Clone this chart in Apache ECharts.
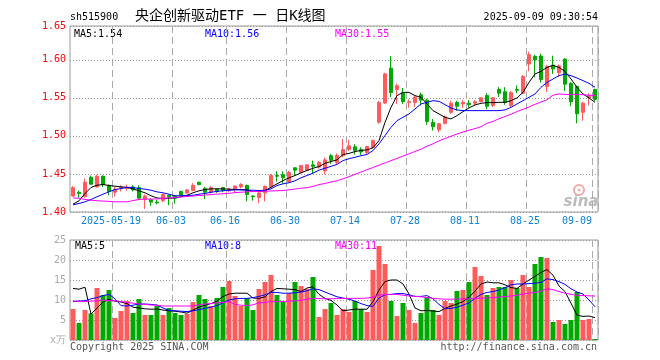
<!DOCTYPE html>
<html><head><meta charset="utf-8">
<script src="https://cdn.jsdelivr.net/npm/echarts@6/dist/echarts.min.js"></script>
<style>html,body{margin:0;padding:0;background:#fff}#c{width:660px;height:360px}</style>
</head><body><div id="c"></div>
<script>
const dates = ['2025-05-08','2025-05-09','2025-05-12','2025-05-13','2025-05-14','2025-05-15','2025-05-16','2025-05-19','2025-05-20','2025-05-21','2025-05-22','2025-05-23','2025-05-26','2025-05-27','2025-05-28','2025-05-29','2025-05-30','2025-06-03','2025-06-04','2025-06-05','2025-06-06','2025-06-09','2025-06-10','2025-06-11','2025-06-12','2025-06-13','2025-06-16','2025-06-17','2025-06-18','2025-06-19','2025-06-20','2025-06-23','2025-06-24','2025-06-25','2025-06-26','2025-06-27','2025-06-30','2025-07-01','2025-07-02','2025-07-03','2025-07-04','2025-07-07','2025-07-08','2025-07-09','2025-07-10','2025-07-11','2025-07-14','2025-07-15','2025-07-16','2025-07-17','2025-07-18','2025-07-21','2025-07-22','2025-07-23','2025-07-24','2025-07-25','2025-07-28','2025-07-29','2025-07-30','2025-07-31','2025-08-01','2025-08-04','2025-08-05','2025-08-06','2025-08-07','2025-08-08','2025-08-11','2025-08-12','2025-08-13','2025-08-14','2025-08-15','2025-08-18','2025-08-19','2025-08-20','2025-08-21','2025-08-22','2025-08-25','2025-08-26','2025-08-27','2025-08-28','2025-08-29','2025-09-01','2025-09-02','2025-09-03','2025-09-04','2025-09-05','2025-09-08','2025-09-09'];

const tickDates  = ['2025-05-19','2025-06-03','2025-06-16','2025-06-30','2025-07-14','2025-07-28','2025-08-11','2025-08-25','2025-09-09'];
const tickLabels = ['2025-05-19','06-03','06-16','06-30','07-14','07-28','08-11','08-25','09-09'];

const openP  = [1.421,1.426,1.420,1.4457,1.433,1.447,1.435,1.426,1.432,1.431,1.433,1.432,1.417,1.416,1.413,1.415,1.422,1.421,1.427,1.425,1.428,1.439,1.431,1.426,1.430,1.432,1.428,1.430,1.433,1.435,1.421,1.419,1.425,1.433,1.448,1.449,1.440,1.458,1.452,1.455,1.462,1.459,1.454,1.474,1.465,1.474,1.482,1.4856,1.482,1.478,1.485,1.518,1.5433,1.589,1.561,1.557,1.544,1.544,1.554,1.547,1.5175,1.508,1.5165,1.531,1.544,1.542,1.543,1.543,1.545,1.553,1.540,1.561,1.558,1.540,1.561,1.556,1.5945,1.6045,1.605,1.565,1.593,1.583,1.601,1.569,1.565,1.531,1.550,1.561];
const closeP = [1.432,1.424,1.439,1.4365,1.447,1.436,1.427,1.430,1.433,1.433,1.429,1.418,1.421,1.413,1.412,1.423,1.420,1.418,1.422,1.429,1.435,1.436,1.426,1.432,1.427,1.428,1.430,1.434,1.436,1.423,1.420,1.425,1.4335,1.448,1.447,1.445,1.452,1.455,1.461,1.462,1.460,1.465,1.4685,1.468,1.4745,1.482,1.487,1.481,1.479,1.486,1.494,1.544,1.5814,1.557,1.566,1.545,1.545,1.551,1.547,1.519,1.512,1.516,1.525,1.543,1.539,1.544,1.541,1.545,1.550,1.539,1.550,1.556,1.544,1.557,1.560,1.578,1.6067,1.600,1.574,1.591,1.588,1.592,1.568,1.545,1.529,1.543,1.553,1.548];
const lowP   = [1.420,1.419,1.419,1.436,1.432,1.433,1.422,1.420,1.427,1.428,1.427,1.418,1.404,1.408,1.410,1.413,1.409,1.411,1.421,1.424,1.428,1.435,1.417,1.424,1.425,1.426,1.426,1.425,1.431,1.414,1.415,1.4115,1.414,1.432,1.440,1.437,1.439,1.448,1.451,1.454,1.450,1.457,1.4496,1.463,1.463,1.472,1.480,1.4755,1.475,1.476,1.484,1.516,1.542,1.551,1.542,1.542,1.537,1.538,1.540,1.5145,1.507,1.505,1.515,1.529,1.533,1.537,1.537,1.540,1.544,1.535,1.538,1.551,1.541,1.537,1.556,1.555,1.5848,1.5769,1.570,1.558,1.5814,1.578,1.559,1.539,1.5165,1.520,1.540,1.546];
const highP  = [1.434,1.428,1.444,1.448,1.449,1.448,1.436,1.433,1.435,1.436,1.435,1.435,1.423,1.418,1.416,1.424,1.423,1.422,1.428,1.430,1.438,1.440,1.433,1.434,1.431,1.433,1.432,1.435,1.438,1.436,1.422,1.426,1.435,1.450,1.4535,1.4535,1.454,1.459,1.462,1.463,1.4676,1.467,1.4715,1.4763,1.477,1.496,1.495,1.489,1.485,1.487,1.495,1.546,1.583,1.605,1.5687,1.563,1.548,1.553,1.557,1.549,1.522,1.517,1.527,1.546,1.546,1.547,1.547,1.547,1.551,1.556,1.551,1.564,1.564,1.559,1.5663,1.580,1.6106,1.6067,1.608,1.593,1.6054,1.594,1.602,1.571,1.566,1.545,1.556,1.562];

const ma5  = [1.4102,1.4147,1.4243,1.4322,1.4352,1.4361,1.4348,1.4339,1.4331,1.4322,1.4304,1.4278,1.4252,1.4213,1.4185,1.4177,1.4181,1.4185,1.4200,1.4220,1.4252,1.4278,1.4295,1.4304,1.4304,1.4304,1.4300,1.4295,1.4295,1.4290,1.4269,1.4269,1.4280,1.4325,1.4370,1.4413,1.4449,1.4479,1.4514,1.4545,1.4575,1.4597,1.4640,1.4663,1.4685,1.4755,1.4770,1.4794,1.4810,1.4816,1.4843,1.4938,1.5178,1.5375,1.5529,1.5572,1.5572,1.5529,1.5507,1.5420,1.5332,1.5289,1.5244,1.5223,1.5266,1.5319,1.5367,1.5407,1.5428,1.5437,1.5437,1.5441,1.5441,1.5463,1.5499,1.5572,1.5703,1.5814,1.5848,1.5900,1.5927,1.5900,1.5848,1.5748,1.5638,1.5551,1.5499,1.5441];
const ma10 = [1.4094,1.4112,1.4134,1.4164,1.4200,1.4234,1.4265,1.4295,1.4308,1.4322,1.4322,1.4308,1.4300,1.4286,1.4265,1.4252,1.4234,1.4213,1.4213,1.4217,1.4220,1.4234,1.4243,1.4260,1.4270,1.4280,1.4285,1.4291,1.4290,1.4288,1.4286,1.4282,1.4285,1.4304,1.4348,1.4370,1.4385,1.4410,1.4450,1.4480,1.4510,1.4550,1.4575,1.4600,1.4625,1.4676,1.4700,1.4719,1.4740,1.4755,1.4807,1.4895,1.5004,1.5113,1.5200,1.5244,1.5289,1.5354,1.5420,1.5441,1.5463,1.5454,1.5411,1.5367,1.5341,1.5332,1.5332,1.5332,1.5332,1.5332,1.5332,1.5332,1.5341,1.5375,1.5420,1.5463,1.5507,1.5551,1.5638,1.5703,1.5748,1.5791,1.5814,1.5791,1.5761,1.5726,1.5690,1.5638];
const ma30 = [1.4186,1.4180,1.4165,1.4155,1.4148,1.4143,1.4140,1.4134,1.4134,1.4134,1.4150,1.4165,1.4168,1.4170,1.4172,1.4178,1.4185,1.4190,1.4198,1.4203,1.4210,1.4217,1.4222,1.4228,1.4235,1.4240,1.4245,1.4255,1.4260,1.4265,1.4269,1.4271,1.4273,1.4276,1.4279,1.4282,1.4292,1.4302,1.4312,1.4320,1.4335,1.4360,1.4375,1.4395,1.4410,1.4436,1.4465,1.4495,1.4525,1.4555,1.4585,1.4615,1.4645,1.4675,1.4705,1.4735,1.4765,1.4795,1.4825,1.4865,1.4895,1.4935,1.4965,1.4995,1.5025,1.5050,1.5075,1.5095,1.5120,1.5165,1.5190,1.5225,1.5255,1.5285,1.5320,1.5350,1.5380,1.5415,1.5445,1.5475,1.5535,1.5551,1.5545,1.5542,1.5542,1.5542,1.5535,1.5529];

const vol   = [7.75,4.25,7.5,6.67,13,11.25,12.5,5.5,7.25,9.75,6.75,10.25,6.25,6.25,8.5,6.25,8,6.75,6.25,6.5,9.5,11.25,10.25,8.5,10.5,13.25,14.75,11,8.5,10.5,7.5,12.75,14.5,16.25,11.25,9.75,11.75,14.5,13.5,12.75,15.75,5.75,7.75,9.25,6.25,7.75,7.0,9.75,7.75,7.0,17.5,23.5,19,9.75,6,9.25,7.5,4.25,6.75,10.75,7.5,6.25,9.75,9.25,12.25,12.5,14.5,18.25,16,11.25,13,13.25,13.25,15,13,16.25,13.25,19,20.75,20.5,4.5,5,4,5,12,5,5.25,0.25];
const vma5  = [12.9,12.7,13.2,6.5,8.0,9.5,10.2,9.7,9.5,9.1,8.2,8.0,7.8,7.7,7.75,7.5,7.3,7.2,7.0,6.7,7.5,8.2,8.7,9.1,9.7,10.9,11.5,11.7,11.7,11.7,10.5,10.4,10.8,12.1,12.9,12.8,12.7,12.6,12.1,13.0,13.3,11.4,10.4,9.9,8.75,7.3,7.5,7.7,7.7,7.7,9.6,12.5,14.6,15,15,14.0,11.5,8.0,7.3,7.4,7.25,7.1,7.9,8.5,9.0,9.6,10.7,12.2,14.0,14.5,14.3,14.3,13.8,13.1,12.9,14.0,15.0,15.9,16.9,17.6,16.2,13.5,12.1,9.2,6.2,5.9,6.0,5.6];
const vma10 = [9.6,9.75,9.8,10.3,10.6,11.1,11.4,10.3,8.6,8.5,8.7,9.0,9.0,8.9,8.75,8.0,7.4,7.3,7.2,7.1,7.3,7.6,7.9,8.2,8.6,9.3,10.0,10.3,10.4,10.4,10.6,10.9,11.3,11.9,11.9,11.7,11.7,11.8,12.0,12.3,12.8,12.6,12.0,11.4,10.8,10.5,10.2,9.7,9.1,8.6,8.4,10.5,11.3,11.4,11.6,11.6,11.3,10.9,10.9,11.1,10.3,8.9,7.8,7.9,8.2,8.7,9.3,10.4,11.4,11.9,12.1,12.5,13.1,13.8,14.0,14.0,14.1,14.2,14.4,15.3,15.1,14.6,13.9,12.8,12.0,11.5,10.0,8.3];
const vma30 = [9.75,9.65,9.6,9.7,9.8,10.0,9.85,9.8,9.6,9.4,9.2,9.0,8.9,8.75,8.7,8.5,8.5,8.5,8.5,8.5,8.5,8.8,9.0,9.1,9.3,9.4,9.6,8.9,8.7,8.6,8.8,9.3,9.4,9.6,9.6,9.6,9.7,9.8,9.9,10.2,10.4,10.35,10.3,10.3,10.4,10.4,10.4,10.4,10.4,10.5,10.7,11.2,11.4,11.4,11.4,11.2,11.0,10.9,10.8,10.6,10.4,10.3,10.2,10.2,10.25,10.25,10.3,10.4,10.45,10.5,10.6,10.75,10.85,11.0,11.2,11.5,11.7,11.9,12.2,12.8,12.6,12.1,11.7,11.4,11.2,11.1,11.05,11.0];

const priceTicks = [1.40, 1.45, 1.50, 1.55, 1.60];
const priceTopLabel = '1.65';
const volTicks = [0, 5, 10, 15, 20, 25];
const volUnit = 'x万';

const UP = '#ff5b5b', DOWN = '#00a800';
const MONO = '"DejaVu Sans Mono", "Liberation Mono", monospace';

const kData = dates.map((d, i) => [openP[i], closeP[i], lowP[i], highP[i]]);
const volData = vol.map((v, i) => ({ value: v, itemStyle: { color: closeP[i] >= openP[i] ? UP : DOWN } }));
const isTick = (idx, val) => tickDates.indexOf(val) >= 0;

const chart = echarts.init(document.getElementById('c'), null, { renderer: 'canvas' });
const dashed = { show: true, interval: isTick, lineStyle: { color: '#aaa', type: [7, 4], width: 1 } };
const dotted = { show: true, lineStyle: { color: '#999', type: [1, 2], width: 1 } };

chart.setOption({
  animation: false,
  backgroundColor: '#fff',
  grid: [
    { left: 70, top: 26, width: 528, height: 186, show: true, borderColor: '#999', borderWidth: 1, backgroundColor: 'transparent' },
    { left: 70, top: 240, width: 528, height: 100, show: true, borderColor: '#999', borderWidth: 1, backgroundColor: 'transparent' }
  ],
  xAxis: [
    { type: 'category', gridIndex: 0, data: dates, boundaryGap: true,
      axisLine: { show: false }, axisTick: { show: false },
      axisLabel: { show: true, interval: isTick, margin: 4, alignMaxLabel: 'right',
        formatter: (v) => { const j = tickDates.indexOf(v); const t = tickLabels[j]; return j === tickDates.length - 1 ? '{e|' + t + '}' : '{n|' + t + '}'; },
        rich: {
          n: { fontFamily: MONO, fontSize: 10, color: '#0a84d8', padding: [0, 8, 0, 0] },
          e: { fontFamily: MONO, fontSize: 10, color: '#0a84d8', padding: [0, 3, 0, 0] }
        } },
      splitLine: dashed },
    { type: 'category', gridIndex: 1, data: dates, boundaryGap: true,
      axisLine: { show: false }, axisTick: { show: false }, axisLabel: { show: false },
      splitLine: dashed }
  ],
  yAxis: [
    { type: 'value', gridIndex: 0, min: priceTicks[0], max: 1.6444, interval: 0.05,
      axisLine: { show: false }, axisTick: { show: false },
      axisLabel: { color: '#f00', fontFamily: MONO, fontSize: 10, margin: 4,
        formatter: (v) => (v > priceTicks[priceTicks.length - 1] + 0.02 ? priceTopLabel : v.toFixed(2)) },
      splitLine: dotted },
    { type: 'value', gridIndex: 1, min: volTicks[0], max: volTicks[volTicks.length - 1], interval: 5,
      axisLine: { show: false }, axisTick: { show: false },
      axisLabel: { color: '#aaa', fontFamily: MONO, fontSize: 10, margin: 4,
        formatter: (v) => (v === 0 ? volUnit : String(v)) },
      splitLine: dotted }
  ],
  series: [
    { type: 'candlestick', xAxisIndex: 0, yAxisIndex: 0, data: kData, barWidth: 4,
      itemStyle: { color: UP, color0: DOWN, borderColor: UP, borderColor0: DOWN, borderWidth: 1 } },
    { type: 'line', xAxisIndex: 0, yAxisIndex: 0, data: ma5, symbol: 'none', lineStyle: { color: '#000', width: 1 } },
    { type: 'line', xAxisIndex: 0, yAxisIndex: 0, data: ma10, symbol: 'none', lineStyle: { color: '#0000ff', width: 1 } },
    { type: 'line', xAxisIndex: 0, yAxisIndex: 0, data: ma30, symbol: 'none', lineStyle: { color: '#ff00ff', width: 1 } },
    { type: 'bar', xAxisIndex: 1, yAxisIndex: 1, data: volData, barWidth: 5 },
    { type: 'line', xAxisIndex: 1, yAxisIndex: 1, data: vma5, symbol: 'none', lineStyle: { color: '#000', width: 1 } },
    { type: 'line', xAxisIndex: 1, yAxisIndex: 1, data: vma10, symbol: 'none', lineStyle: { color: '#0000ff', width: 1 } },
    { type: 'line', xAxisIndex: 1, yAxisIndex: 1, data: vma30, symbol: 'none', lineStyle: { color: '#ff00ff', width: 1 } }
  ],
  graphic: [
    { type: 'text', x: 70, y: 17, style: { text: 'sh515900', font: '10px ' + MONO, fill: '#000', verticalAlign: 'middle' } },
    { type: 'text', x: 135, y: 16, style: { text: '央企创新驱动ETF 一 日K线图', font: '14px "DejaVu Sans Mono", "Noto Sans CJK SC"', fill: '#000', verticalAlign: 'middle' } },
    { type: 'text', x: 598, y: 17, style: { text: '2025-09-09 09:30:54', font: '10px ' + MONO, fill: '#000', align: 'right', verticalAlign: 'middle' } },
    { type: 'text', x: 74, y: 34, style: { text: 'MA5:1.54', font: '10px ' + MONO, fill: '#000', verticalAlign: 'middle' } },
    { type: 'text', x: 205, y: 34, style: { text: 'MA10:1.56', font: '10px ' + MONO, fill: '#0000ff', verticalAlign: 'middle' } },
    { type: 'text', x: 335, y: 34, style: { text: 'MA30:1.55', font: '10px ' + MONO, fill: '#ff00ff', verticalAlign: 'middle' } },
    { type: 'text', x: 75, y: 246, style: { text: 'MA5:5', font: '10px ' + MONO, fill: '#000', verticalAlign: 'middle' } },
    { type: 'text', x: 205, y: 246, style: { text: 'MA10:8', font: '10px ' + MONO, fill: '#0000ff', verticalAlign: 'middle' } },
    { type: 'text', x: 335, y: 246, style: { text: 'MA30:11', font: '10px ' + MONO, fill: '#ff00ff', verticalAlign: 'middle' } },
    { type: 'text', x: 70, y: 347, style: { text: 'Copyright 2025 SINA.COM', font: '10px ' + MONO, fill: '#555', verticalAlign: 'middle' } },
    { type: 'text', x: 597, y: 347, style: { text: 'http://finance.sina.com.cn', font: '10px ' + MONO, fill: '#555', align: 'right', verticalAlign: 'middle' } },
    { type: 'circle', shape: { cx: 579, cy: 190, r: 5 }, style: { fill: 'none', stroke: '#f4a8a8', lineWidth: 2 } },
    { type: 'circle', shape: { cx: 579, cy: 190, r: 1.5 }, style: { fill: '#f4a8a8' } },
    { type: 'text', x: 581, y: 202, style: { text: 'sina', font: 'italic bold 15px "DejaVu Sans"', fill: '#bbb', align: 'center', verticalAlign: 'middle' } }
  ]
});
</script></body></html>
